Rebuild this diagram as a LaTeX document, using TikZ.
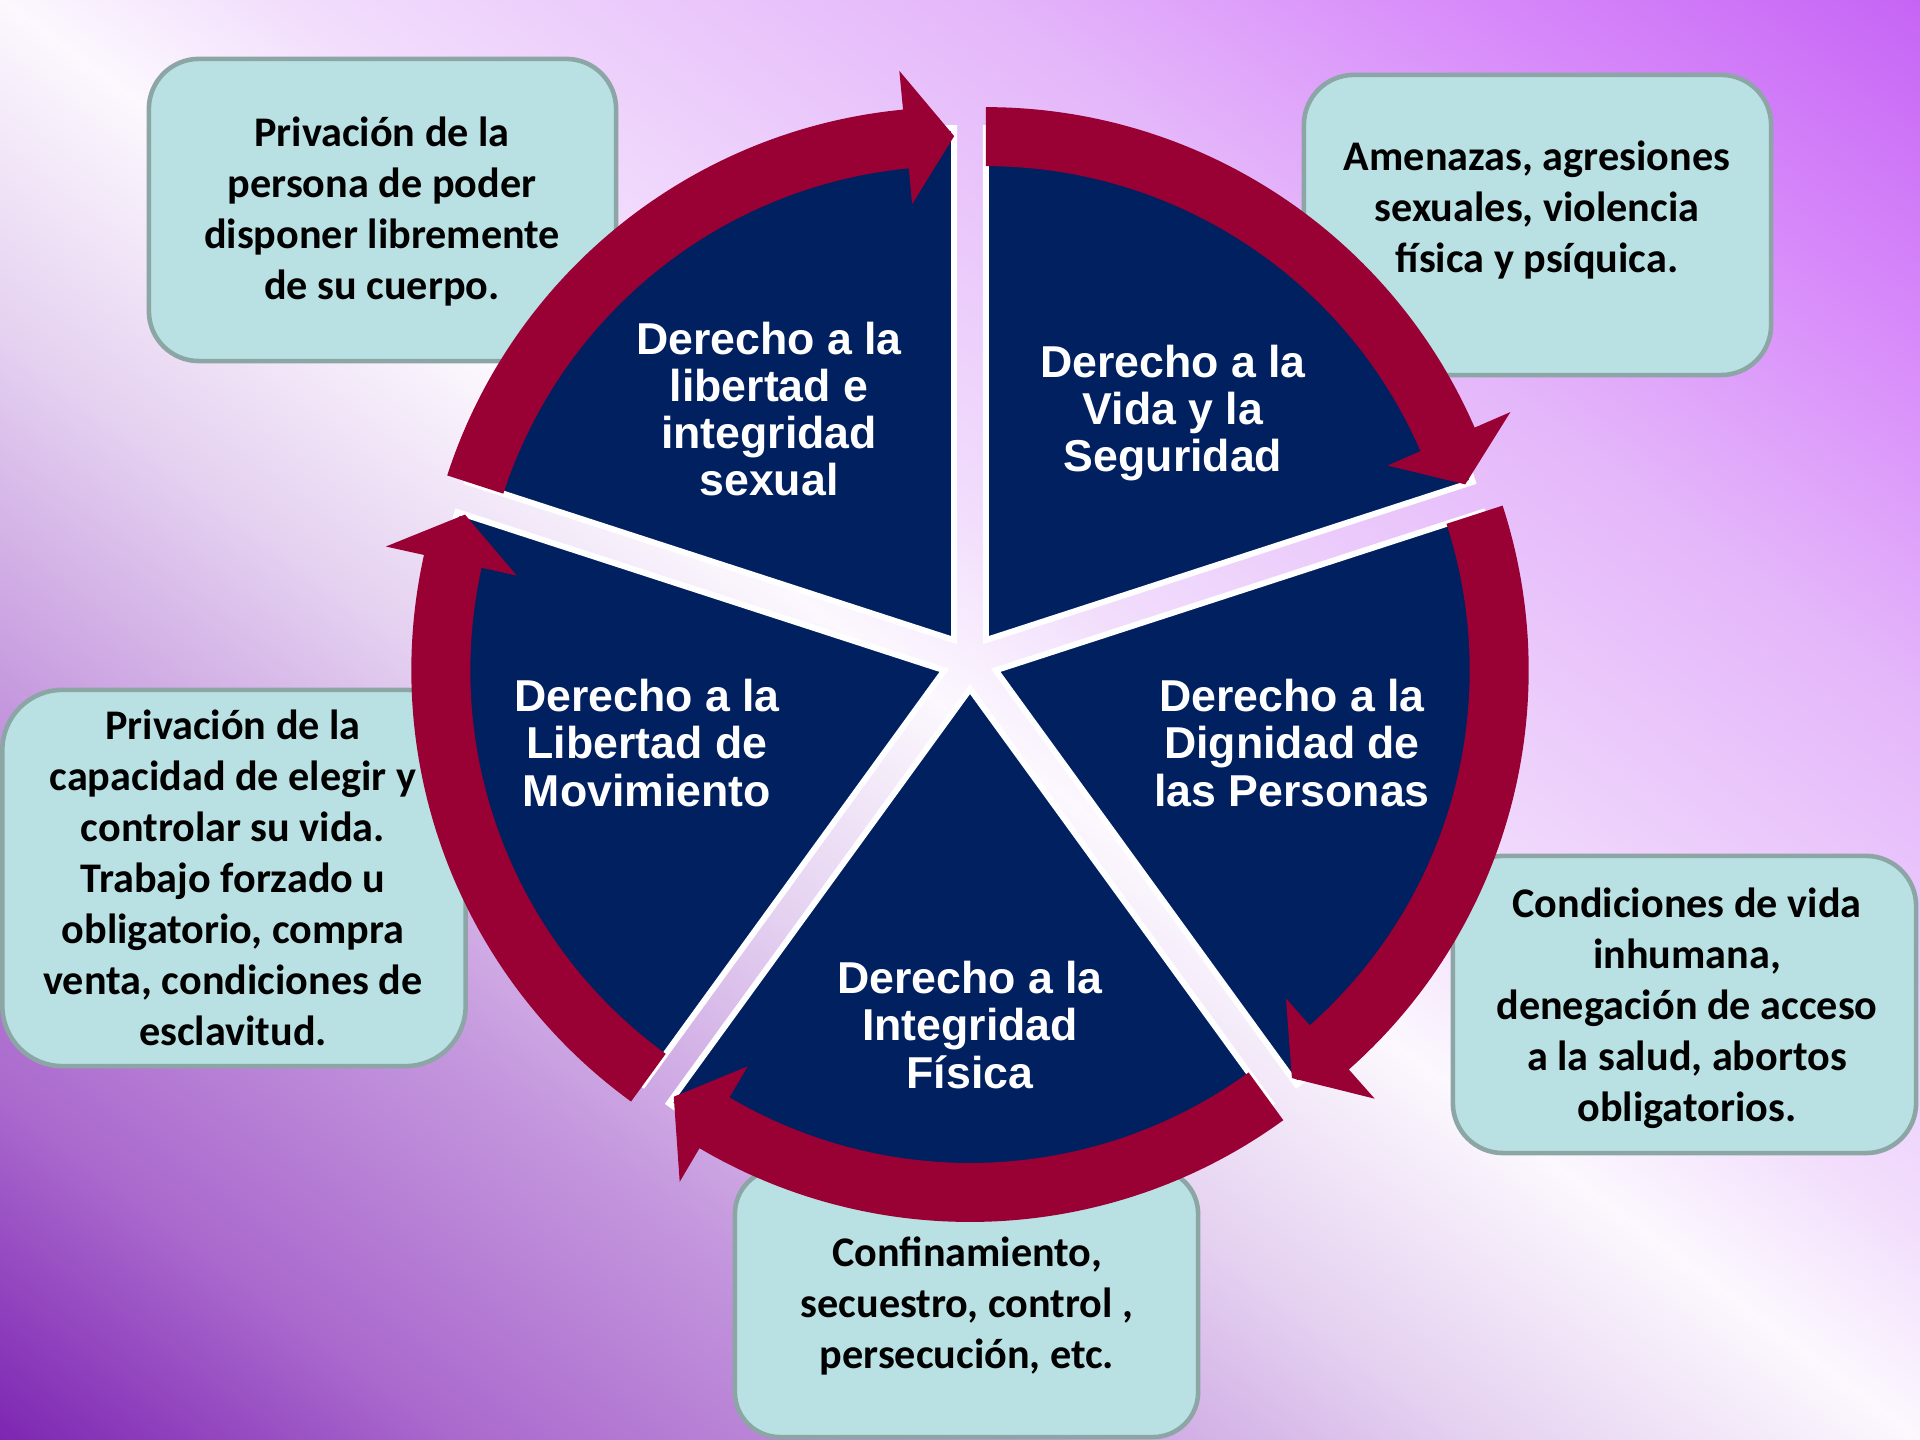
\documentclass[tikz,border=0pt]{standalone}
\usepackage{fontspec}
\setmainfont{Carlito}
\newfontfamily\piefont{Liberation Sans}
\definecolor{navy}{RGB}{0,32,96}
\definecolor{arrowred}{RGB}{153,0,51}
\definecolor{boxfill}{RGB}{185,224,226}
\definecolor{boxline}{RGB}{140,166,166}
\definecolor{bga}{RGB}{125,38,178}
\definecolor{bgb}{RGB}{170,105,205}
\definecolor{bgc}{RGB}{197,152,222}
\definecolor{bgd}{RGB}{228,208,240}
\definecolor{bge}{RGB}{252,248,254}
\definecolor{bgf}{RGB}{242,222,252}
\definecolor{bgg}{RGB}{228,182,250}
\definecolor{bgh}{RGB}{216,140,250}
\definecolor{bgi}{RGB}{198,100,245}
\newcommand\drawsegm[1]{%
  \begin{scope}[shift={({970+27*cos(#1)},{778+27*sin(#1)})}]
    \path[sector] (0,0) -- (#1+36:512) arc[start angle=#1+36, end angle=#1-36, radius=512] -- cycle;
  \end{scope}}
\newcommand\drawcarrow[1]{%
  \begin{scope}[shift={({970+27*cos(#1)},{778+27*sin(#1)})}]
    \fill[arrowred] (#1+36:533) arc[start angle=#1+36, end angle=#1-30.5, radius=533]
      -- (#1-30.5:572) -- (#1-36:504) -- (#1-30.5:438) -- (#1-30.5:474)
      arc[start angle=#1-30.5, end angle=#1+36, radius=474] -- cycle;
  \end{scope}}
\begin{document}
\begin{tikzpicture}[x=0.01cm,y=0.01cm,
  sector/.style={fill=navy, draw=white, line width=1.7pt, line join=miter},
  box/.style={draw=boxline, fill=boxfill, line width=1.3pt, rounded corners=0.5cm, inner sep=0pt},
  boxtext/.style={font=\bfseries\fontsize{12}{14.5}\selectfont, align=center, text=black, inner sep=0pt},
  pietext/.style={font=\piefont\bfseries\fontsize{12.7}{13.4}\selectfont, align=center, text=white, inner sep=0pt}]

\useasboundingbox (0,0) rectangle (1920,1440);

% background gradient (iso-lines along the top-left to bottom-right diagonal)
\begin{scope}
\clip (0,0) rectangle (1920,1440);
\begin{scope}[transform canvas={shift={(9.6cm,7.2cm)},rotate=53.13}]
\fill[bga] (-1300,-1400) rectangle (-1151,1400);
\shade[left color=bga,right color=bgb] (-1152,-1400) rectangle (-879,1400);
\shade[left color=bgb,right color=bgc] (-880,-1400) rectangle (-559,1400);
\shade[left color=bgc,right color=bgd] (-560,-1400) rectangle (-271,1400);
\shade[left color=bgd,right color=bge] (-272,-1400) rectangle (1,1400);
\shade[left color=bge,right color=bgf] (0,-1400) rectangle (165,1400);
\shade[left color=bgf,right color=bgg] (164,-1400) rectangle (593,1400);
\shade[left color=bgg,right color=bgh] (592,-1400) rectangle (865,1400);
\shade[left color=bgh,right color=bgi] (864,-1400) rectangle (1153,1400);
\fill[bgi] (1152,-1400) rectangle (1300,1400);
\end{scope}
\end{scope}

% text boxes
\node[box, minimum width=4.67cm, minimum height=3.02cm] (b1) at (382.5,1230) {};
\node[box, minimum width=4.67cm, minimum height=3.00cm] (b2) at (1537.5,1215) {};
\node[box, minimum width=4.63cm, minimum height=3.76cm, rounded corners=0.6cm] (b3) at (234,562) {};
\node[box, minimum width=4.63cm, minimum height=2.97cm] (b4) at (1684.5,435.5) {};
\node[box, minimum width=4.63cm, minimum height=2.68cm, rounded corners=0.45cm] (b5) at (966.5,137) {};

\node[boxtext] (x1) at (382,1228) {Privación de la\\persona de poder\\disponer libremente\\de su cuerpo.};
\node[boxtext] (x2) at (1537,1230) {Amenazas, agresiones\\sexuales, violencia\\física y psíquica.};
\node[boxtext] (x3) at (233,562) {Privación de la\\capacidad de elegir y\\controlar su vida.\\Trabajo forzado u\\obligatorio, compra\\venta, condiciones de\\esclavitud.};
\node[boxtext] (x4) at (1687,432) {Condiciones de vida\\inhumana,\\denegación de acceso\\a la salud, abortos\\obligatorios.};
\node[boxtext] (x5) at (967,134) {Confinamiento,\\secuestro, control ,\\persecución, etc.};

% pie segments
\drawsegm{126}
\drawsegm{54}
\drawsegm{-18}
\drawsegm{-90}
\drawsegm{198}

% circular arrows
\drawcarrow{126}
\drawcarrow{54}
\drawcarrow{-18}
\drawcarrow{-90}
\drawcarrow{198}

% segment labels
\node[pietext] (tA) at (769,1031) {Derecho a la\\libertad e\\integridad\\sexual};
\node[pietext] (tB) at (1173,1027) {Derecho a la\\Vida y la\\Seguridad};
\node[pietext] (tC) at (1292,697) {Derecho a la\\Dignidad de\\las Personas};
\node[pietext] (tD) at (970,415) {Derecho a la\\Integridad\\Física};
\node[pietext] (tE) at (647,697) {Derecho a la\\Libertad de\\Movimiento};
\end{tikzpicture}
\end{document}
